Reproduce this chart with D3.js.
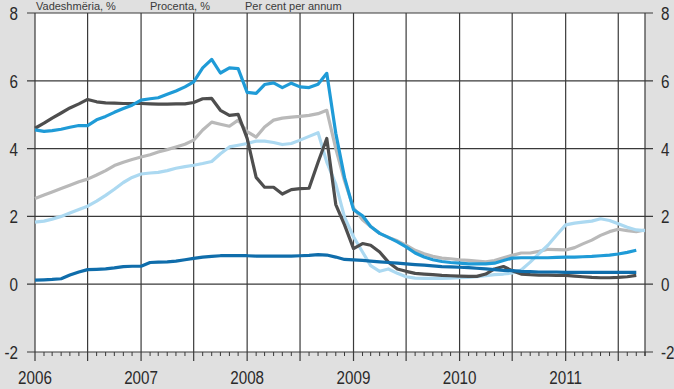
<!DOCTYPE html>
<html><head><meta charset="utf-8">
<script src="https://cdn.jsdelivr.net/npm/d3@7"></script>
<style>html,body{margin:0;padding:0;background:#e0e0e0;} svg{display:block}</style>
</head><body>
<svg id="c" width="674" height="389"></svg>
<script>
// ---- data (monthly, Jan 2006 .. Oct 2011) ----
const yTicks = [-2, 0, 2, 4, 6, 8];
const yearLabels = ["2006", "2007", "2008", "2009", "2010", "2011"];
const headerTexts = ["Vadeshmëria, %", "Procenta, %", "Per cent per annum"];
const firstMonth = "2006-01";
const lastMonth = "2011-10";

const darkGray = [
  4.6, 4.75, 4.9, 5.05, 5.2, 5.32, 5.45, 5.38, 5.35, 5.34, 5.33, 5.33,
  5.33, 5.32, 5.31, 5.31, 5.32, 5.32, 5.36, 5.47, 5.48, 5.13, 4.98, 5.01,
  4.3, 3.15, 2.86, 2.86, 2.66, 2.79, 2.82, 2.83, 3.6, 4.3, 2.35, 1.75,
  1.05, 1.2, 1.15, 0.95, 0.65, 0.45, 0.38, 0.32, 0.3, 0.28, 0.26, 0.25,
  0.24, 0.23, 0.23, 0.3, 0.45, 0.52, 0.4, 0.3, 0.28, 0.27, 0.27, 0.26,
  0.26, 0.24, 0.22, 0.2, 0.19, 0.19, 0.2, 0.22, 0.26, null
];
const medBlue = [
  4.55, 4.51, 4.53, 4.57, 4.63, 4.68, 4.68, 4.85, 4.95, 5.07, 5.18, 5.28,
  5.43, 5.47, 5.5, 5.6, 5.7, 5.82, 5.97, 6.38, 6.63, 6.23, 6.38, 6.36,
  5.66, 5.63, 5.89, 5.94, 5.8, 5.93, 5.82, 5.8, 5.9, 6.22, 4.45, 3.15,
  2.2, 2.02, 1.7, 1.5, 1.38, 1.25, 1.1, 0.92, 0.8, 0.72, 0.67, 0.64,
  0.62, 0.6, 0.6, 0.6, 0.62, 0.7, 0.77, 0.78, 0.78, 0.78, 0.78, 0.79,
  0.8, 0.8, 0.81, 0.82, 0.84, 0.86, 0.89, 0.94, 1.0, null
];
const lightGray = [
  2.53, 2.63, 2.72, 2.82, 2.92, 3.02, 3.1, 3.22, 3.35, 3.5, 3.6, 3.68,
  3.75, 3.82, 3.9, 3.97, 4.05, 4.13, 4.25, 4.55, 4.78, 4.72, 4.66, 4.84,
  4.5, 4.34, 4.64, 4.84, 4.9, 4.93, 4.95, 4.98, 5.03, 5.13, 4.0, 3.05,
  2.25, 1.9, 1.7, 1.5, 1.38, 1.28, 1.15, 1.0, 0.9, 0.82, 0.77, 0.75,
  0.72, 0.7, 0.68, 0.66, 0.7, 0.78, 0.85, 0.92, 0.92, 0.97, 1.03, 1.02,
  1.01, 1.08, 1.19, 1.3, 1.44, 1.55, 1.62, 1.58, 1.55, 1.6
];
const lightBlue = [
  1.83, 1.86, 1.92, 2.0, 2.1, 2.2, 2.3, 2.45, 2.62, 2.8, 3.0, 3.15,
  3.25, 3.28, 3.3, 3.35, 3.42, 3.47, 3.51, 3.56, 3.62, 3.85, 4.05, 4.1,
  4.15, 4.22, 4.22, 4.18, 4.12, 4.15, 4.25, 4.36, 4.47, 3.6, 2.95, 1.98,
  1.4, 0.95, 0.55, 0.38, 0.45, 0.32, 0.22, 0.18, 0.17, 0.17, 0.17, 0.18,
  0.19, 0.2, 0.22, 0.25, 0.28, 0.3, 0.33, 0.42, 0.65, 0.9, 1.15, 1.45,
  1.75, 1.8, 1.83, 1.86, 1.93, 1.88, 1.78, 1.68, 1.6, 1.58
];
const darkBlue = [
  0.12, 0.13, 0.14, 0.16, 0.27, 0.36, 0.43, 0.44, 0.45, 0.48, 0.52, 0.53,
  0.53, 0.64, 0.65, 0.66, 0.68, 0.72, 0.76, 0.8, 0.82, 0.84, 0.84, 0.84,
  0.84, 0.83, 0.83, 0.83, 0.83, 0.83, 0.84, 0.85, 0.87, 0.86, 0.8, 0.73,
  0.72, 0.7, 0.68, 0.66, 0.64, 0.62, 0.6, 0.58, 0.56, 0.54, 0.52, 0.51,
  0.5, 0.49, 0.47, 0.45, 0.43, 0.41, 0.4, 0.38, 0.37, 0.36, 0.36, 0.36,
  0.35, 0.35, 0.35, 0.35, 0.35, 0.35, 0.35, 0.35, 0.35, null
];

const seriesList = [
  { name: "lightGray", values: lightGray, color: "#b9b9b9" },
  { name: "lightBlue", values: lightBlue, color: "#acd9f1" },
  { name: "darkGray", values: darkGray, color: "#4e4e4e" },
  { name: "darkBlue", values: darkBlue, color: "#0f6dab" },
  { name: "medBlue", values: medBlue, color: "#1f9bd7" }
];

// ---- layout ----
const svg = d3.select("#c");
const L = 35, R = 645, T = 13, B = 352;
const parse = d3.timeParse("%Y-%m");
const d0 = parse(firstMonth), d1 = parse(lastMonth);
const months = d3.timeMonth.range(d0, d3.timeMonth.offset(d1, 1));
const x = d3.scaleTime().domain([d0, d1]).range([L, R]);
const y = d3.scaleLinear().domain([-2, 8]).range([B, T]);
const FONT = "'Liberation Sans Narrow','Arial Narrow','Liberation Sans',sans-serif";
const gridColor = "#3a3a3a";

svg.append("rect").attr("width", 674).attr("height", 389).attr("fill", "#e0e0e0");
svg.append("rect").attr("x", L).attr("y", T).attr("width", R - L).attr("height", B - T).attr("fill", "#fff");

// header line above the plot
const headerX = [36, 150, 245];
headerTexts.forEach((t, i) => {
  svg.append("text").attr("x", headerX[i]).attr("y", 10)
    .attr("font-family", FONT).attr("font-size", 11).attr("fill", "#3a3a3a").text(t);
});

// horizontal gridlines + ticks on both sides
svg.append("g").selectAll("line").data(yTicks).join("line")
  .attr("x1", L - 8).attr("x2", R + 8)
  .attr("y1", d => y(d)).attr("y2", d => y(d))
  .attr("stroke", gridColor).attr("stroke-width", 1.2);

// vertical half-year gridlines (extend below as major ticks)
const halfYears = months.filter(d => d.getMonth() % 6 === 0);
svg.append("g").selectAll("line").data(halfYears).join("line")
  .attr("x1", d => x(d)).attr("x2", d => x(d))
  .attr("y1", T).attr("y2", B + 9)
  .attr("stroke", gridColor).attr("stroke-width", 1.2);
// right border
svg.append("line").attr("x1", R).attr("x2", R).attr("y1", T).attr("y2", B + 4)
  .attr("stroke", gridColor).attr("stroke-width", 1.2);
// monthly minor ticks
svg.append("g").selectAll("line").data(months.filter(d => d.getMonth() % 6 !== 0)).join("line")
  .attr("x1", d => x(d)).attr("x2", d => x(d))
  .attr("y1", B).attr("y2", B + 4)
  .attr("stroke", gridColor).attr("stroke-width", 1);

// series lines
const line = d3.line()
  .defined(d => d.v !== null)
  .x(d => x(d.date)).y(d => y(d.v))
  .curve(d3.curveLinear);
seriesList.forEach(s => {
  const pts = months.map((m, i) => ({ date: m, v: s.values[i] === undefined ? null : s.values[i] }));
  svg.append("path").datum(pts).attr("d", line)
    .attr("fill", "none").attr("stroke", s.color).attr("stroke-width", 3.2)
    .attr("stroke-linejoin", "round").attr("stroke-linecap", "butt");
});

// y labels
yTicks.forEach(t => {
  svg.append("text").attr("transform", `translate(18,${y(t) + 7}) scale(0.8,1)`)
    .attr("text-anchor", "end").attr("font-family", FONT).attr("font-size", 19)
    .attr("fill", "#2a2a2a").text(t);
  svg.append("text").attr("transform", `translate(661,${y(t) + 7}) scale(0.8,1)`)
    .attr("text-anchor", "start").attr("font-family", FONT).attr("font-size", 19)
    .attr("fill", "#2a2a2a").text(t);
});

// x year labels
yearLabels.forEach(yr => {
  const d = parse(yr + "-01");
  svg.append("text").attr("transform", `translate(${x(d)},384) scale(0.8,1)`)
    .attr("text-anchor", "middle").attr("font-family", FONT).attr("font-size", 19)
    .attr("fill", "#2a2a2a").text(yr);
});
</script>
</body></html>
